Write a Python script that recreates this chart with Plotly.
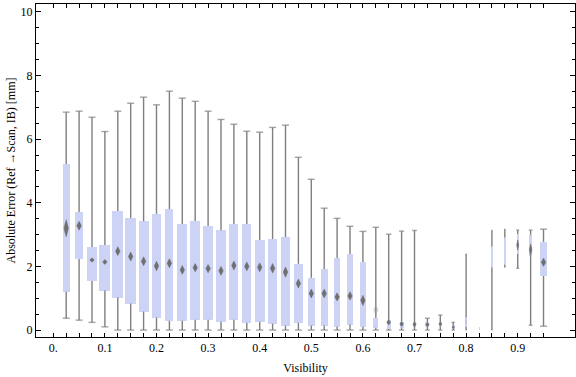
import plotly.graph_objects as go

# ---- data (38 visibility bins, step 0.025) ----
visibility = [round(0.025 * (i + 1), 3) for i in range(38)]

upper = [6.85, 6.88, 6.69, 6.24, 6.88, 7.13, 7.32, 7.08, 7.51, 7.29, 7.19, 6.88, 6.62, 6.47,
         6.25, 6.22, 6.37, 6.44, 5.43, 4.74, 3.83, 3.51, 3.26, 3.10, 3.23, 3.01, 3.11, 3.13,
         0.37, 0.47, 0.24, 2.39, 0.11, 3.14, 3.17, 3.14, 3.14, 3.17]
q3 = [5.22, 3.71, 2.61, 2.67, 3.74, 3.52, 3.42, 3.65, 3.80, 3.33, 3.43, 3.27, 3.14, 3.33,
      3.33, 2.83, 2.86, 2.92, 2.08, 1.64, 1.92, 2.26, 2.39, 2.14, 0.38, 0.31, 0.26, 0.22,
      0.24, 0.24, 0.15, 0.40, 0.11, 2.62, 2.90, 3.02, 2.99, 2.77]
q1 = [1.20, 2.23, 1.54, 1.24, 1.02, 0.83, 0.58, 0.39, 0.29, 0.29, 0.32, 0.32, 0.26, 0.32,
      0.23, 0.26, 0.20, 0.14, 0.23, 0.14, 0.14, 0.10, 0.17, 0.10, 0.07, 0.03, 0.07, 0.11,
      0.11, 0.11, 0.04, 0.10, 0.00, 1.97, 2.05, 2.39, 2.33, 1.70]
lower = [0.37, 0.31, 0.24, 0.10, 0, 0, 0, 0, 0, 0, 0, 0, 0, 0, 0, 0, 0, 0, 0, 0, 0, 0, 0, 0,
         0, 0, 0, 0, 0, 0, 0, 0, 0, 0, 1.97, 1.94, 0.15, 0.12]
mean = [3.20, 3.28, 2.20, 2.14, 2.48, 2.31, 2.16, 2.01, 2.10, 1.89, 1.96, 1.93, 1.86, 2.03,
        2.00, 1.97, 1.94, 1.82, 1.46, 1.15, 1.15, 1.04, 1.07, 0.93, 0.63, 0.24, 0.19, 0.18,
        0.17, 0.19, 0.09, 0.27, None, None, None, 2.67, 2.52, 2.13]
mean_ci = [0.27, 0.14, 0.07, 0.08, 0.14, 0.14, 0.14, 0.15, 0.14, 0.14, 0.13, 0.13, 0.14, 0.14,
           0.14, 0.14, 0.15, 0.16, 0.14, 0.14, 0.14, 0.13, 0.13, 0.16, 0.16, 0.08, 0.08, 0.08,
           0.065, 0.065, 0.05, 0.11, 0, 0, 0, 0.16, 0.19, 0.13]
# relative box width (fraction of bin spacing), reflects bin population
rel_width = [0.57, 0.67, 0.85, 0.85, 0.85, 0.85, 0.78, 0.70, 0.62, 0.78, 0.78, 0.75, 0.75, 0.70,
             0.70, 0.75, 0.70, 0.70, 0.70, 0.54, 0.54, 0.47, 0.47, 0.47, 0.39, 0.33, 0.31, 0.29,
             0.31, 0.26, 0.21, 0.05, 0.0, 0.05, 0.05, 0.18, 0.23, 0.49]
faint_mean = [25, 32]  # bins (1-based) whose mean marker is drawn faintly

tick_vals = [round(0.025 * i, 3) for i in range(39)]
tick_text = ["0." if i == 0 else (f"{0.025 * i:.1f}" if i % 4 == 0 else "") for i in range(39)]

# ---- styles ----
STEP = 0.025
PX = STEP / 12.9          # data units per pixel along x
BOX_FILL = "#CCD3F5"
WHISK = "#7F7F7F"
FONT = "Liberation Serif"

widths = [w * STEP for w in rel_width]

fig = go.Figure()

# boxes (interquartile range)
fig.add_trace(go.Bar(
    x=visibility, y=[b - a for a, b in zip(q1, q3)], base=q1, width=widths,
    marker=dict(color=BOX_FILL, line=dict(width=0)), hoverinfo="skip", showlegend=False))

# whiskers
wx, wy = [], []
for x, lo, a, b, hi in zip(visibility, lower, q1, q3, upper):
    wx += [x, x, None, x, x, None]
    wy += [lo, a, None, b, hi, None]
fig.add_trace(go.Scatter(x=wx, y=wy, mode="lines", line=dict(color=WHISK, width=1.4),
                         hoverinfo="skip", showlegend=False, connectgaps=False))

# whisker caps
cap_size = [min(5.0, w / PX * 0.9) for w in widths]
fig.add_trace(go.Scatter(
    x=visibility + visibility, y=lower + upper, mode="markers",
    marker=dict(symbol="line-ew", size=cap_size + cap_size, color=WHISK,
                line=dict(color=WHISK, width=1.4)),
    hoverinfo="skip", showlegend=False))

# mean diamonds
def diamonds(indices):
    dx, dy = [], []
    for i in indices:
        m = mean[i]
        if m is None or mean_ci[i] == 0:
            continue
        hw = min(4.5, widths[i] / PX * 0.9) / 2 * PX
        h = mean_ci[i]
        x = visibility[i]
        dx += [x - hw, x, x + hw, x, x - hw, None]
        dy += [m, m + h, m, m - h, m, None]
    return dx, dy

normal = [i for i in range(38) if (i + 1) not in faint_mean]
faint = [i - 1 for i in faint_mean]
for idx, col in ((normal, "rgba(105,105,105,0.95)"), (faint, "rgba(150,150,150,0.35)")):
    dx, dy = diamonds(idx)
    fig.add_trace(go.Scatter(x=dx, y=dy, mode="lines", fill="toself", fillcolor=col,
                             line=dict(width=0.5, color=col), hoverinfo="skip",
                             showlegend=False))

fig.update_layout(
    width=576, height=377,
    margin=dict(l=36, r=1, t=4, b=40),
    paper_bgcolor="white", plot_bgcolor="white",
    font=dict(family=FONT, size=12, color="black"),
    bargap=0,
)
fig.update_xaxes(
    range=[-0.0335, 1.011], tickmode="array", tickvals=tick_vals, ticktext=tick_text,
    ticks="inside", ticklen=4, tickwidth=1, tickcolor="black",
    showline=True, linecolor="black", linewidth=1, mirror="ticks",
    showgrid=False, zeroline=False, automargin=False,
    title=dict(text="Visibility", font=dict(family=FONT, size=12), standoff=9),
)
fig.update_yaxes(
    range=[-0.22, 10.25], tickmode="array", tickvals=[0, 2, 4, 6, 8, 10],
    ticks="inside", ticklen=5, tickwidth=1, tickcolor="black",
    minor=dict(dtick=0.5, tick0=0, ticks="inside", ticklen=3, tickcolor="black"),
    showline=True, linecolor="black", linewidth=1, mirror="ticks",
    showgrid=False, zeroline=False, automargin=False,
    title=dict(text="Absolute Error (Ref \u2192Scan, IB) [mm]", font=dict(family=FONT, size=12),
               standoff=2),
)

fig.write_html("out.html", config={"displayModeBar": False},
               post_script="document.body.style.margin='0';document.body.style.padding='0';")
